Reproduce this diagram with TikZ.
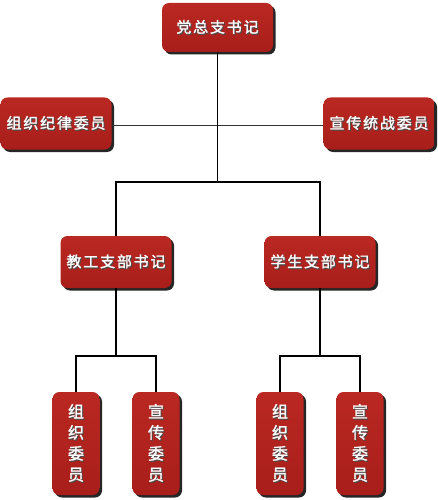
\documentclass[tikz,border=0pt]{standalone}
\usepackage{fontspec}
\newfontfamily\cjk{Noto Sans CJK SC}[LetterSpace=12, FakeBold=1.6]
\newfontfamily\cjkv{Noto Sans CJK SC}[FakeBold=1.6]
\usetikzlibrary{shadows}
\definecolor{boxtop}{RGB}{186,40,34}
\definecolor{boxbot}{RGB}{168,30,26}
\newcommand\sh[1]{\makebox[0pt][l]{\hspace{1pt}\raisebox{-1.2pt}{\textcolor{black!70}{#1}}}#1}
\tikzset{
  box/.style={top color=boxtop, bottom color=boxbot, draw=none, rounded corners=7pt,
    text=white, inner sep=0pt, align=center,
    drop shadow={shadow xshift=2.5pt, shadow yshift=-2.5pt, fill=black!85, opacity=1}},
  hbox/.style={box, font=\cjk\fontsize{15}{20}\selectfont, minimum width=111pt, minimum height=52pt},
  vbox/.style={box, font=\cjkv\fontsize{16}{21}\selectfont, minimum width=47pt, minimum height=103pt},
  conn/.style={draw=black, line width=1.4pt},
  thinconn/.style={draw=black!80, line width=1pt},
  thickconn/.style={draw=black, line width=1.9pt}
}
\begin{document}
\begin{tikzpicture}[x=1pt,y=-1pt]
\useasboundingbox (0,0) rectangle (437,500);
% nodes
\node[hbox, minimum height=49pt] (top) at (217.5,27.5) {\sh{党总支书记}};
\node[hbox] (left) at (56,123.5) {\sh{组织纪律委员}};
\node[hbox] (right) at (379,123.5) {\sh{宣传统战委员}};
\node[hbox] (m1) at (116,262) {\sh{教工支部书记}};
\node[hbox] (m2) at (320,262) {\sh{学生支部书记}};
\node[vbox] (b1) at (76,443.5) {\sh{组}\\\sh{织}\\\sh{委}\\\sh{员}};
\node[vbox] (b2) at (156,443.5) {\sh{宣}\\\sh{传}\\\sh{委}\\\sh{员}};
\node[vbox] (b3) at (280,443.5) {\sh{组}\\\sh{织}\\\sh{委}\\\sh{员}};
\node[vbox] (b4) at (360,443.5) {\sh{宣}\\\sh{传}\\\sh{委}\\\sh{员}};
% junction coordinates
\coordinate (j2) at (217.5,182);
\coordinate (h1) at (116,356);
\coordinate (h2) at (320,356);
% connectors
\draw[thinconn] ([yshift=-1.5pt]left.east) -- ([yshift=-1.5pt]right.west);
\draw[thickconn] (top.south) -- (j2);
\draw[conn] (m1.north) -- (m1.north |- j2) -- (m2.north |- j2) -- (m2.north);
\draw[conn] (m1.south) -- (h1);
\draw[conn] (b1.north) |- (h1) -| (b2.north);
\draw[conn] (m2.south) -- (h2);
\draw[conn] (b3.north) |- (h2) -| (b4.north);
\end{tikzpicture}
\end{document}
